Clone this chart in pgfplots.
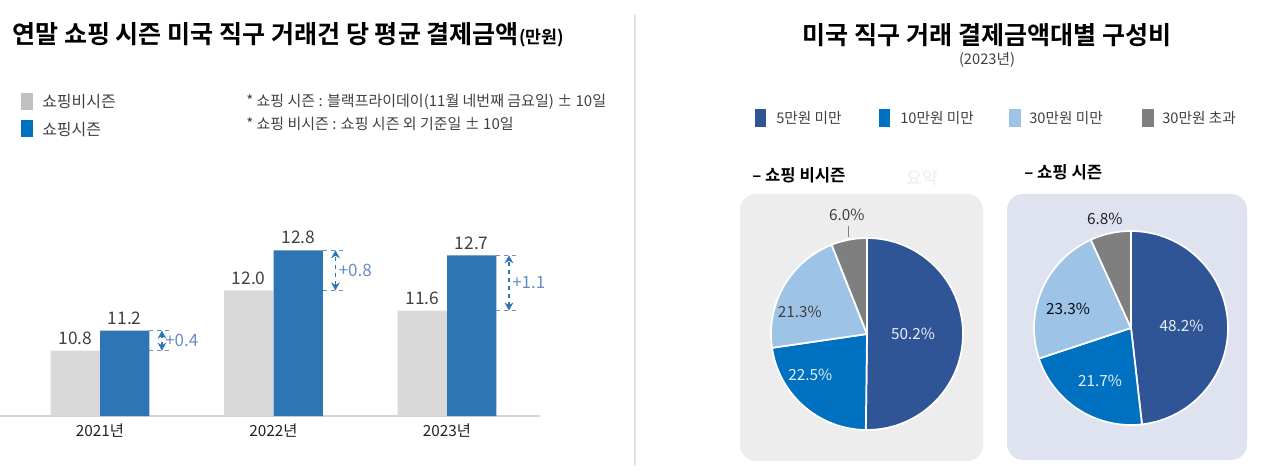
\documentclass[border=0pt]{standalone}
\usepackage{fontspec}
\setmainfont{Noto Sans CJK KR}
\newfontfamily\bfont{Noto Sans CJK KR Bold}
\usepackage{pgfplots}
\pgfplotsset{compat=1.18}
\usetikzlibrary{arrows.meta}
\newcommand\fs[1]{\fontsize{#1}{#1}\selectfont}
\definecolor{cGrayBar}{HTML}{D9D9D9}
\definecolor{cBlueBar}{HTML}{2E75B6}
\definecolor{cLegGray}{HTML}{C0C0C0}
\definecolor{cTxt}{HTML}{404040}
\definecolor{cTxtD}{HTML}{222222}
\definecolor{cDiff}{HTML}{6A8BC6}
\definecolor{cDash}{HTML}{6F8FC0}
\definecolor{cDark}{HTML}{2F5597}
\definecolor{cMid}{HTML}{0070C0}
\definecolor{cLight}{HTML}{9DC3E6}
\definecolor{cGrey}{HTML}{7F7F7F}
\definecolor{boxL}{HTML}{EDEDED}
\definecolor{boxR}{HTML}{DFE3F0}
\definecolor{cSep}{HTML}{E0E0E0}
\definecolor{cAxis}{HTML}{D5D5D5}
% pie slice: start%, end% (cumulative), colour
\newcommand\slice[3]{%
  \addplot[fill=#3, draw=white, line width=1.3pt, samples=60, variable=\t,
    domain={90-3.6*(#2)}:{90-3.6*(#1)}]
    ({cos(\t)},{sin(\t)}) -- (axis cs:0,0) -- cycle;}
\begin{document}
\begin{tikzpicture}
\useasboundingbox (0,0) rectangle (960pt,356.25pt);
\begin{scope}[x=0.75pt,y=-0.75pt,shift={(0pt,356.25pt)}]
  \fill[boxL, rounded corners=12pt] (740,194) rectangle (983,461);
  \fill[boxR, rounded corners=12pt] (1007,194) rectangle (1247,460);
  \draw[cSep, line width=0.8pt] (635,15) -- (635,465);
  % left title
  \node[anchor=west, inner sep=0pt, text=black] at (12,35)
    {\bfont\fs{18.8pt}연말 쇼핑 시즌 미국 직구 거래건 당 평균 결제금액{\fs{13pt}(만원)}};
  % left legend
  \fill[cLegGray] (21,93) rectangle (33,110);
  \node[anchor=west, inner sep=0pt, text=cTxt, font=\fs{12pt}] at (42,102) {쇼핑비시즌};
  \fill[cMid] (21,120) rectangle (33,137);
  \node[anchor=west, inner sep=0pt, text=cTxt, font=\fs{12pt}] at (42,130) {쇼핑시즌};
  \node[anchor=west, inner sep=0pt, text=cTxt, font=\fs{11.25pt}] at (246,102) {* 쇼핑 시즌 : 블랙프라이데이(11월 네번째 금요일) ± 10일};
  \node[anchor=west, inner sep=0pt, text=cTxt, font=\fs{11.25pt}] at (246,124) {* 쇼핑 비시즌 : 쇼핑 시즌 외 기준일 ± 10일};
  % right title
  \node[inner sep=0pt, text=black] at (987,35) {\bfont\fs{18.8pt}미국 직구 거래 결제금액대별 구성비};
  \node[inner sep=0pt, text=cTxt, font=\fs{11pt}] at (987,60) {(2023년)};
  % right legend
  \fill[cDark] (755,109) rectangle (766,127);
  \node[anchor=west, inner sep=0pt, text=cTxt, font=\fs{11pt}] at (776,118) {5만원 미만};
  \fill[cMid] (879,109) rectangle (890,127);
  \node[anchor=west, inner sep=0pt, text=cTxt, font=\fs{11pt}] at (900,118) {10만원 미만};
  \fill[cLight] (1009,109) rectangle (1021,127);
  \node[anchor=west, inner sep=0pt, text=cTxt, font=\fs{11pt}] at (1029,118) {30만원 미만};
  \fill[cGrey] (1142,109) rectangle (1154,127);
  \node[anchor=west, inner sep=0pt, text=cTxt, font=\fs{11pt}] at (1162,118) {30만원 초과};
  % sub labels
  \node[anchor=west, inner sep=0pt, text=black] at (752,175) {\bfont\fs{12.5pt}– 쇼핑 비시즌};
  \node[anchor=west, inner sep=0pt, text=black] at (1024,172) {\bfont\fs{12.5pt}– 쇼핑 시즌};
  \node[inner sep=0pt, text=black!7, font=\fs{13pt}] at (922,178) {요약};
\end{scope}

% ---------- bar chart ----------
\begin{axis}[at={(0pt,44.25pt)}, anchor=south west, scale only axis,
  width=405pt, height=169.5pt,
  xmin=-0.5764, xmax=2.536, ymin=9.5, ymax=14,
  clip mode=individual,
  axis x line*=bottom, axis y line=none,
  x axis line style={draw=cAxis, line width=1.2pt},
  xtick={0,1,2}, xticklabels={2021년,2022년,2023년},
  major tick length=0pt,
  xticklabel style={font=\fs{11.5pt}, text=cTxtD, yshift=-2pt},
  /pgf/number format/fixed, /pgf/number format/fixed zerofill,
  /pgf/number format/precision=1, /pgf/number format/assume math mode=true,
  nodes near coords style={font=\fs{13pt}, text=cTxt, anchor=south, yshift=1pt}]
\addplot[ybar, bar width=37.1pt, bar shift=-18.56pt, fill=cGrayBar, draw=none,
  nodes near coords, every node near coord/.append style={xshift=-18.56pt}]
  coordinates {(0,10.8) (1,12.0) (2,11.6)};
\addplot[ybar, bar width=37.1pt, bar shift=18.56pt, fill=cBlueBar, draw=none,
  nodes near coords, every node near coord/.append style={xshift=18.56pt}]
  coordinates {(0,11.2) (1,12.8) (2,12.7)};
% difference annotations
\addplot[cDash, dashed, line width=0.7pt] coordinates {(0.285,11.2) (0.41,11.2)};
\addplot[cDash, dashed, line width=0.7pt] coordinates {(0.285,10.8) (0.41,10.8)};
\addplot[cBlueBar, dashed, line width=1pt, {Stealth[length=6pt,width=6.5pt]}-{Stealth[length=6pt,width=6.5pt]}] coordinates {(0.357,10.8) (0.357,11.2)};
\addplot[cDash, dashed, line width=0.7pt] coordinates {(1.285,12.8) (1.41,12.8)};
\addplot[cDash, dashed, line width=0.7pt] coordinates {(1.285,12.0) (1.41,12.0)};
\addplot[cBlueBar, dashed, line width=1pt, {Stealth[length=6pt,width=6.5pt]}-{Stealth[length=6pt,width=6.5pt]}] coordinates {(1.357,12.0) (1.357,12.8)};
\addplot[cDash, dashed, line width=0.7pt] coordinates {(2.285,12.7) (2.41,12.7)};
\addplot[cDash, dashed, line width=0.7pt] coordinates {(2.285,11.6) (2.41,11.6)};
\addplot[cBlueBar, dashed, line width=1pt, {Stealth[length=6pt,width=6.5pt]}-{Stealth[length=6pt,width=6.5pt]}] coordinates {(2.357,11.6) (2.357,12.7)};
\node[anchor=west, inner sep=1pt, text=cDiff, font=\fs{12.75pt}] at (axis cs:0.367,11.0) {+0.4};
\node[anchor=west, inner sep=1pt, text=cDiff, font=\fs{12.75pt}] at (axis cs:1.367,12.4) {+0.8};
\node[anchor=west, inner sep=1pt, text=cDiff, font=\fs{12.75pt}] at (axis cs:2.367,12.15) {+1.1};
\end{axis}

% ---------- pie: off season ----------
\begin{axis}[at={(650.25pt,105.75pt)}, anchor=center, scale only axis,
  width=144pt, height=144pt, xmin=-1, xmax=1, ymin=-1, ymax=1,
  hide axis, clip=false]
\slice{0}{50.2}{cDark}
\slice{50.2}{72.7}{cMid}
\slice{72.7}{94.0}{cLight}
\slice{94.0}{100}{cGrey}
\node[text=white!90!cDark, font=\fs{11.5pt}] at (axis cs:0.48,0.0) {50.2\%};
\node[text=white!90!cMid, font=\fs{11.5pt}] at (axis cs:-0.59,-0.43) {22.5\%};
\node[text=cTxt, font=\fs{11.5pt}] at (axis cs:-0.70,0.23) {21.3\%};
\node[text=cTxt, font=\fs{11.5pt}] at (axis cs:-0.21,1.24) {6.0\%};
\addplot[gray, line width=0.6pt] coordinates {(-0.19,1.12) (-0.19,1.01)};
\end{axis}

% ---------- pie: season ----------
\begin{axis}[at={(848.25pt,110.25pt)}, anchor=center, scale only axis,
  width=145.5pt, height=145.5pt, xmin=-1, xmax=1, ymin=-1, ymax=1,
  hide axis, clip=false]
\slice{0}{48.2}{cDark}
\slice{48.2}{69.9}{cMid}
\slice{69.9}{93.2}{cLight}
\slice{93.2}{100}{cGrey}
\node[text=white!90!cDark, font=\fs{11.5pt}] at (axis cs:0.52,0.02) {48.2\%};
\node[text=white!90!cMid, font=\fs{11.5pt}] at (axis cs:-0.32,-0.54) {21.7\%};
\node[text=black!85!cDark, font=\fs{11.5pt}] at (axis cs:-0.65,0.20) {23.3\%};
\node[text=cTxtD, font=\fs{11.5pt}] at (axis cs:-0.27,1.12) {6.8\%};
\end{axis}
\end{tikzpicture}
\end{document}
